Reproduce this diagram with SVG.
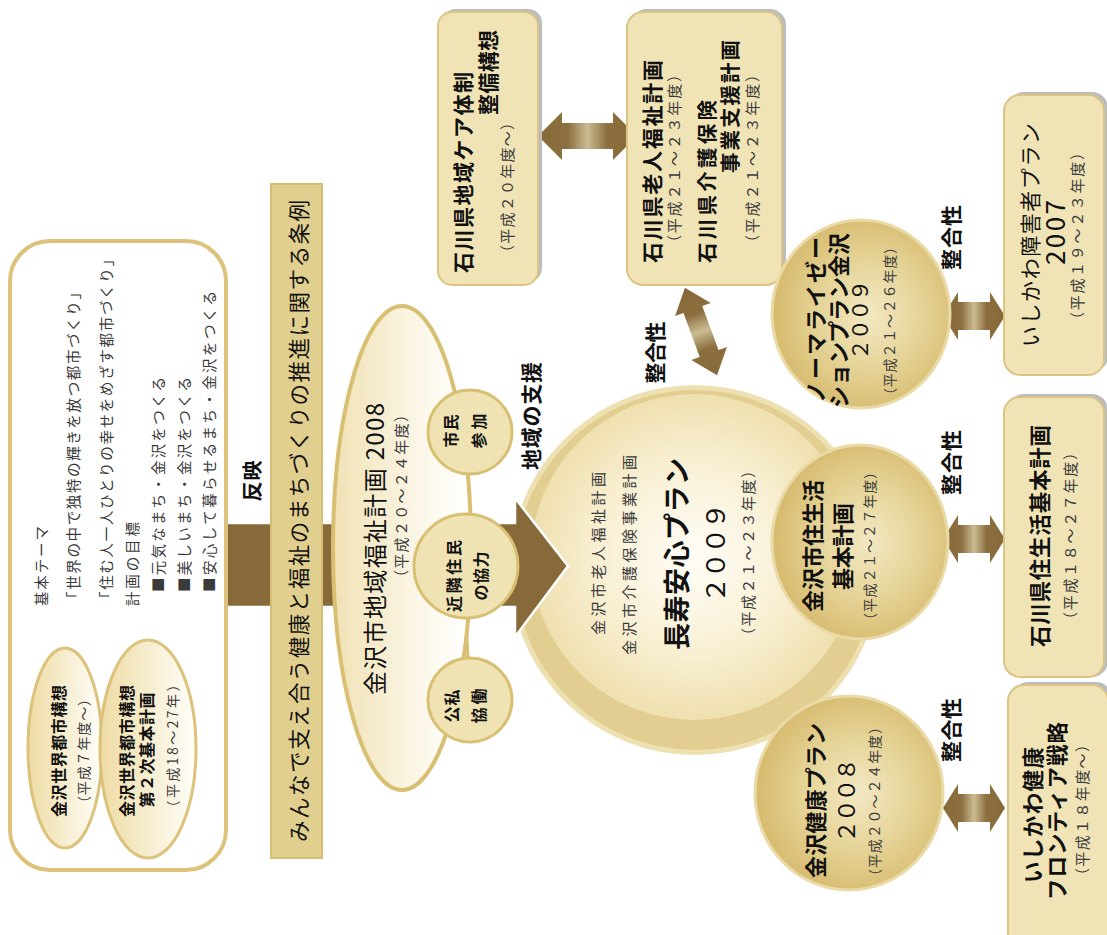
<svg xmlns="http://www.w3.org/2000/svg" width="1107" height="935" viewBox="0 0 1107 935">
<style>
.t{font-family:"Noto Sans CJK JP","Noto Sans CJK SC",sans-serif;dominant-baseline:central;text-anchor:middle;fill:#111}
.b{font-weight:bold}
.s{fill:#3a3a3a}
.box{fill:#f0e4b6;stroke:#dcc584;stroke-width:2}
.shd{fill:#bcbcbc}
.sc{fill:#efe2b3;stroke:#d9bf72;stroke-width:3}
.rc{fill:url(#rcG);stroke:#e9daa6;stroke-width:3}
.da{fill:url(#daG)}
</style>
<defs>
<linearGradient id="ellG" x1="0" y1="0" x2="1" y2="0">
<stop offset="0" stop-color="#eedca4"/><stop offset="1" stop-color="#fffefa"/>
</linearGradient>
<linearGradient id="bigEllG" x1="0" y1="0" x2="1" y2="0">
<stop offset="0" stop-color="#f0e2b4"/><stop offset="0.75" stop-color="#fdfaf1"/><stop offset="1" stop-color="#ffffff"/>
</linearGradient>
<radialGradient id="rcG" cx="0.55" cy="0.5" r="0.55">
<stop offset="0" stop-color="#f3e8c3"/><stop offset="0.5" stop-color="#e6d59a"/><stop offset="1" stop-color="#d6ba6d"/>
</radialGradient>
<radialGradient id="bigG" cx="0.5" cy="0.5" r="0.5">
<stop offset="0" stop-color="#fffdf7"/><stop offset="0.6" stop-color="#f8efd2"/><stop offset="1" stop-color="#efe0af"/>
</radialGradient>
<linearGradient id="daG" x1="0" y1="0" x2="1" y2="0">
<stop offset="0" stop-color="#87693a"/><stop offset="0.3" stop-color="#8c6f3f"/><stop offset="0.5" stop-color="#cbbb93"/><stop offset="0.7" stop-color="#8c6f3f"/><stop offset="1" stop-color="#87693a"/>
</linearGradient>
</defs>

<g id="choju-plan">
<circle cx="695" cy="570" r="185" fill="#ede0b1"/>
<circle cx="695" cy="570" r="180" fill="#e2ce90"/>
<circle cx="694" cy="557" r="163" fill="url(#bigG)"/>
<text class="t s" transform="translate(597,553.5) rotate(-90)" font-size="15" textLength="163" lengthAdjust="spacing">金沢市老人福祉計画</text>
<text class="t s" transform="translate(628,555) rotate(-90)" font-size="15" textLength="200" lengthAdjust="spacing">金沢市介護保険事業計画</text>
<text class="t b" transform="translate(675,554) rotate(-90)" font-size="27" textLength="192" lengthAdjust="spacing">長寿安心プラン</text>
<text class="t" transform="translate(713,553) rotate(-90)" font-size="26" textLength="100" lengthAdjust="spacing">２００９</text>
<text class="t s" transform="translate(747,553) rotate(-90)" font-size="15" textLength="180" lengthAdjust="spacing">（平成２１～２３年度）</text>
</g>

<g id="connectors">
<path d="M226,523 L515,523 L515,498 L568,566 L515,637 L515,607 L226,607 Z" fill="#87693a" stroke="#ffffff" stroke-width="2.5"/>
<path class="da" transform="translate(587.5,136)" d="M-49.5,0 L-25.5,-24 L-25.5,-13 L25.5,-13 L25.5,-24 L49.5,0 L25.5,24 L25.5,13 L-25.5,13 L-25.5,24 Z"/>
<path class="da" transform="translate(701,331.5) rotate(69.8)" d="M-46.5,0 L-23.5,-19 L-23.5,-10 L23.5,-10 L23.5,-19 L46.5,0 L23.5,19 L23.5,10 L-23.5,10 L-23.5,19 Z"/>
<path class="da" transform="translate(974,316)" d="M-31,0 L-16,-24 L-16,-14 L16,-14 L16,-24 L31,0 L16,24 L16,14 L-16,14 L-16,24 Z"/>
<path class="da" transform="translate(974,539)" d="M-31,0 L-16,-24 L-16,-14 L16,-14 L16,-24 L31,0 L16,24 L16,14 L-16,14 L-16,24 Z"/>
<path class="da" transform="translate(974,808)" d="M-31,0 L-16,-24 L-16,-14 L16,-14 L16,-24 L31,0 L16,24 L16,14 L-16,14 L-16,24 Z"/>
<line x1="468" y1="474" x2="468" y2="515" stroke="#d9bf72" stroke-width="3"/>
<line x1="466" y1="618" x2="468" y2="659" stroke="#d9bf72" stroke-width="3"/>
<text class="t b" transform="translate(251,481) rotate(-90)" font-size="20" textLength="41" lengthAdjust="spacing">反映</text>
<text class="t b" transform="translate(530,416) rotate(-90)" font-size="21" textLength="108" lengthAdjust="spacing">地域の支援</text>
<text class="t b" transform="translate(654,352.5) rotate(-90)" font-size="21" textLength="62" lengthAdjust="spacing">整合性</text>
<text class="t b" transform="translate(950,237.5) rotate(-90)" font-size="21" textLength="65" lengthAdjust="spacing">整合性</text>
<text class="t b" transform="translate(950,462.5) rotate(-90)" font-size="21" textLength="65" lengthAdjust="spacing">整合性</text>
<text class="t b" transform="translate(950,730) rotate(-90)" font-size="21" textLength="64" lengthAdjust="spacing">整合性</text>
</g>

<g id="theme-box">
<rect x="10" y="241" width="216" height="629" rx="40" fill="#ffffff" stroke="#dcc27a" stroke-width="4"/>
<text class="t s" transform="translate(40,566) rotate(-90)" font-size="14.5" textLength="80" lengthAdjust="spacing">基本テーマ</text>
<text class="t s" transform="translate(72,445.5) rotate(-90)" font-size="14.5" textLength="321" lengthAdjust="spacing">「世界の中で独特の輝きを放つ都市づくり」</text>
<text class="t s" transform="translate(105,429) rotate(-90)" font-size="14.5" textLength="354" lengthAdjust="spacing">「住む人一人ひとりの幸せをめざす都市づくり」</text>
<text class="t s" transform="translate(131,564) rotate(-90)" font-size="14.5" textLength="84" lengthAdjust="spacing">計画の目標</text>
<text class="t s" transform="translate(157,484.5) rotate(-90)" font-size="14.5" textLength="215" lengthAdjust="spacing">■元気なまち・金沢をつくる</text>
<text class="t s" transform="translate(183,484.5) rotate(-90)" font-size="14.5" textLength="215" lengthAdjust="spacing">■美しいまち・金沢をつくる</text>
<text class="t s" transform="translate(208,441.5) rotate(-90)" font-size="14.5" textLength="301" lengthAdjust="spacing">■安心して暮らせるまち・金沢をつくる</text>
</g>

<g id="sekai-toshi">
<ellipse cx="65" cy="748" rx="37" ry="100" fill="url(#ellG)" stroke="#dcc27a" stroke-width="3"/>
<text class="t b" transform="translate(58,751) rotate(-90)" font-size="16" textLength="132" lengthAdjust="spacing">金沢世界都市構想</text>
<text class="t s" transform="translate(83,751) rotate(-90)" font-size="14" textLength="118" lengthAdjust="spacing">（平成７年度～）</text>
</g>

<g id="sekai-toshi-2">
<ellipse cx="148" cy="749" rx="48" ry="109" fill="url(#ellG)" stroke="#dcc27a" stroke-width="3"/>
<text class="t b" transform="translate(126,751) rotate(-90)" font-size="16" textLength="132" lengthAdjust="spacing">金沢世界都市構想</text>
<text class="t b" transform="translate(146,750) rotate(-90)" font-size="16" textLength="115" lengthAdjust="spacing">第２次基本計画</text>
<text class="t s" transform="translate(172,746) rotate(-90)" font-size="14" textLength="137" lengthAdjust="spacing">（平成18～27年）</text>
</g>

<g id="jorei">
<rect x="271" y="184" width="51" height="674" fill="#e1cf90" stroke="#d5bd74" stroke-width="2"/>
<text class="t" transform="translate(297,521) rotate(-90)" font-size="21.5" textLength="642" lengthAdjust="spacing">みんなで支え合う健康と福祉のまちづくりの推進に関する条例</text>
</g>

<g id="chiiki-fukushi">
<ellipse cx="402" cy="548" rx="69" ry="242" fill="url(#bigEllG)" stroke="#d9bf72" stroke-width="4"/>
<text class="t" transform="translate(373,549) rotate(-90)" font-size="24" textLength="292" lengthAdjust="spacing">金沢市地域福祉計画 2008</text>
<text class="t s" transform="translate(400,496) rotate(-90)" font-size="15" textLength="178" lengthAdjust="spacing">（平成２０～２４年度）</text>
</g>

<g id="shimin-sanka">
<circle cx="470" cy="432" r="42" class="sc"/>
<text class="t b" transform="translate(450,431) rotate(-90)" font-size="16" textLength="33" lengthAdjust="spacing">市民</text>
<text class="t b" transform="translate(478,431) rotate(-90)" font-size="16" textLength="35" lengthAdjust="spacing">参加</text>
</g>

<g id="kinrin">
<circle cx="466" cy="566" r="52" class="sc"/>
<text class="t b" transform="translate(453,576) rotate(-90)" font-size="16" textLength="72" lengthAdjust="spacing">近隣住民</text>
<text class="t b" transform="translate(480,576) rotate(-90)" font-size="16" textLength="49" lengthAdjust="spacing">の協力</text>
</g>

<g id="koshi">
<circle cx="470" cy="700" r="42" class="sc"/>
<text class="t b" transform="translate(451,706) rotate(-90)" font-size="16" textLength="33" lengthAdjust="spacing">公私</text>
<text class="t b" transform="translate(478,706) rotate(-90)" font-size="16" textLength="35" lengthAdjust="spacing">協働</text>
</g>

<g id="care-taisei">
<rect x="442" y="9" width="100" height="273" rx="14" class="shd"/>
<rect x="438" y="12" width="100" height="273" rx="14" class="box"/>
<text class="t b" transform="translate(462,172.5) rotate(-90)" font-size="21" textLength="201" lengthAdjust="spacing">石川県地域ケア体制</text>
<text class="t b" transform="translate(487,72.5) rotate(-90)" font-size="21" textLength="85" lengthAdjust="spacing">整備構想</text>
<text class="t s" transform="translate(506,187.5) rotate(-90)" font-size="15" textLength="145" lengthAdjust="spacing">（平成２０年度～）</text>
</g>

<g id="ken-rojin">
<rect x="631" y="9" width="155" height="273" rx="16" class="shd"/>
<rect x="627" y="12" width="155" height="273" rx="16" class="box"/>
<text class="t b" transform="translate(651,161.5) rotate(-90)" font-size="21" textLength="203" lengthAdjust="spacing">石川県老人福祉計画</text>
<text class="t s" transform="translate(673,158.5) rotate(-90)" font-size="15" textLength="183" lengthAdjust="spacing">（平成２１～２３年度）</text>
<text class="t b" transform="translate(706,181.5) rotate(-90)" font-size="20.5" textLength="163" lengthAdjust="spacing">石川県介護保険</text>
<text class="t b" transform="translate(729,106.5) rotate(-90)" font-size="20.5" textLength="133" lengthAdjust="spacing">事業支援計画</text>
<text class="t s" transform="translate(751,158.5) rotate(-90)" font-size="15" textLength="183" lengthAdjust="spacing">（平成２１～２３年度）</text>
</g>

<g id="normalization">
<ellipse cx="861" cy="314" rx="89" ry="94" class="rc"/>
<text class="t b" transform="translate(814,320) rotate(-90)" font-size="22" textLength="166" lengthAdjust="spacing">ノーマライゼー</text>
<text class="t b" transform="translate(837,320.5) rotate(-90)" font-size="22" textLength="175" lengthAdjust="spacing">ションプラン金沢</text>
<text class="t" transform="translate(859,320) rotate(-90)" font-size="21" textLength="80" lengthAdjust="spacing">２００９</text>
<text class="t s" transform="translate(889,321) rotate(-90)" font-size="14" textLength="162" lengthAdjust="spacing">（平成２１～２６年度）</text>
</g>

<g id="shogaisha">
<rect x="1008" y="92" width="100" height="280" rx="16" class="shd"/>
<rect x="1004" y="95" width="100" height="280" rx="16" class="box"/>
<text class="t" transform="translate(1029,235) rotate(-90)" font-size="21" textLength="224" lengthAdjust="spacing">いしかわ障害者プラン</text>
<text class="t" transform="translate(1053,232.5) rotate(-90)" font-size="26" textLength="65" lengthAdjust="spacing">2007</text>
<text class="t s" transform="translate(1076,236) rotate(-90)" font-size="15" textLength="182" lengthAdjust="spacing">（平成１９～２３年度）</text>
</g>

<g id="shi-jyuseikatsu">
<ellipse cx="860" cy="542" rx="88" ry="97" class="rc"/>
<text class="t b" transform="translate(811,546) rotate(-90)" font-size="22" textLength="132" lengthAdjust="spacing">金沢市住生活</text>
<text class="t b" transform="translate(841,546.5) rotate(-90)" font-size="22" textLength="87" lengthAdjust="spacing">基本計画</text>
<text class="t s" transform="translate(869,546) rotate(-90)" font-size="14" textLength="162" lengthAdjust="spacing">（平成２１～２７年度）</text>
</g>

<g id="ken-jyuseikatsu">
<rect x="1008" y="394" width="100" height="283" rx="16" class="shd"/>
<rect x="1004" y="397" width="100" height="280" rx="16" class="box"/>
<text class="t b" transform="translate(1038,536) rotate(-90)" font-size="21.5" textLength="222" lengthAdjust="spacing">石川県住生活基本計画</text>
<text class="t s" transform="translate(1069,536) rotate(-90)" font-size="15" textLength="182" lengthAdjust="spacing">（平成１８～２７年度）</text>
</g>

<g id="kenko-plan">
<ellipse cx="849" cy="793" rx="94" ry="97" class="rc"/>
<text class="t b" transform="translate(814,800.5) rotate(-90)" font-size="22" textLength="155" lengthAdjust="spacing">金沢健康プラン</text>
<text class="t" transform="translate(845,800.5) rotate(-90)" font-size="23" textLength="85" lengthAdjust="spacing">２００８</text>
<text class="t s" transform="translate(874,801.5) rotate(-90)" font-size="14" textLength="163" lengthAdjust="spacing">（平成２０～２４年度）</text>
</g>

<g id="frontier">
<rect x="1012" y="682" width="100" height="280" rx="16" class="shd"/>
<rect x="1008" y="685" width="100" height="280" rx="16" class="box"/>
<text class="t b" transform="translate(1031,815) rotate(-90)" font-size="21.5" textLength="136" lengthAdjust="spacing">いしかわ健康</text>
<text class="t b" transform="translate(1055,811) rotate(-90)" font-size="21.5" textLength="178" lengthAdjust="spacing">フロンティア戦略</text>
<text class="t s" transform="translate(1081,810) rotate(-90)" font-size="15" textLength="146" lengthAdjust="spacing">（平成１８年度～）</text>
</g>
</svg>
